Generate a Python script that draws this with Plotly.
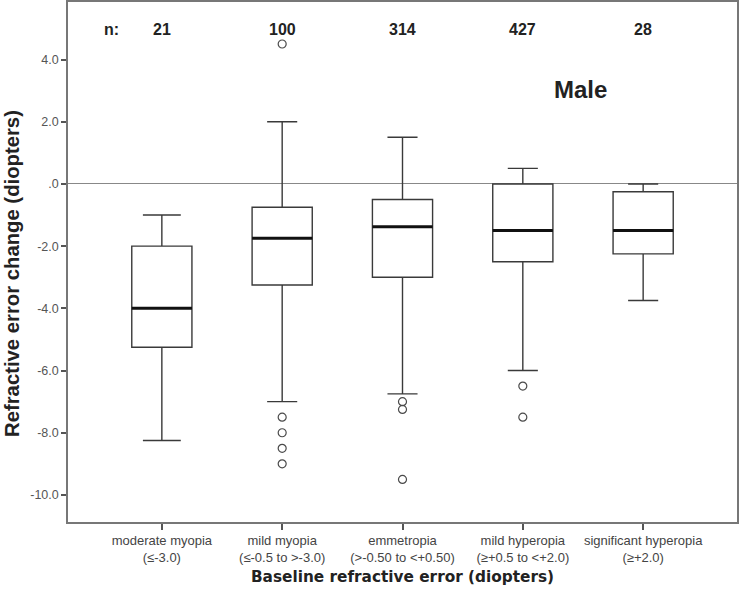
import plotly.graph_objects as go

# ---- data ----
categories = [
    "moderate myopia<br>(≤-3.0)",
    "mild myopia<br>(≤-0.5 to >-3.0)",
    "emmetropia<br>(>-0.50 to <+0.50)",
    "mild hyperopia<br>(≥+0.5 to <+2.0)",
    "significant hyperopia<br>(≥+2.0)",
]
n_counts = [21, 100, 314, 427, 28]
q1_vals = [-5.25, -3.25, -3.0, -2.5, -2.25]
median_vals = [-4.0, -1.75, -1.375, -1.5, -1.5]
q3_vals = [-2.0, -0.75, -0.5, 0.0, -0.25]
lower_whisker = [-8.25, -7.0, -6.75, -6.0, -3.75]
upper_whisker = [-1.0, 2.0, 1.5, 0.5, 0.0]
outliers = [
    [],
    [4.5, -7.5, -8.0, -8.5, -9.0],
    [-7.0, -7.25, -9.5],
    [-6.5, -7.5],
    [],
]
y_tick_vals = [4, 2, 0, -2, -4, -6, -8, -10]
y_tick_text = ["4.0", "2.0", ".0", "-2.0", "-4.0", "-6.0", "-8.0", "-10.0"]

BOX_W = 0.5
cap_frac = [0.63, 0.5, 0.5, 0.5, 0.5]
positions = list(range(len(categories)))

fig = go.Figure()

for i in positions:
    fig.add_trace(go.Box(
        x=[i], q1=[q1_vals[i]], median=[median_vals[i]], q3=[q3_vals[i]],
        lowerfence=[lower_whisker[i]], upperfence=[upper_whisker[i]],
        width=BOX_W, whiskerwidth=cap_frac[i],
        fillcolor="white", line=dict(color="#3a3a3a", width=1.4),
        boxpoints=False, showlegend=False, hoverinfo="skip",
    ))

# thick median lines
mx, my = [], []
for i in positions:
    mx += [i - BOX_W / 2, i + BOX_W / 2, None]
    my += [median_vals[i], median_vals[i], None]
fig.add_trace(go.Scatter(x=mx, y=my, mode="lines",
                         line=dict(color="#111111", width=3),
                         showlegend=False, hoverinfo="skip"))

# outliers
ox, oy = [], []
for i in positions:
    for v in outliers[i]:
        ox.append(i)
        oy.append(v)
fig.add_trace(go.Scatter(x=ox, y=oy, mode="markers",
                         marker=dict(symbol="circle-open", size=8, color="#4a4a4a",
                                     line=dict(width=1.2)),
                         showlegend=False, hoverinfo="skip"))

FONT = "Liberation Sans, Arial"
annotations = [dict(x=-0.42, y=4.95, xref="x", yref="y", text="<b>n:</b>", showarrow=False,
                    font=dict(family=FONT, size=16, color="#222222"))]
for i in positions:
    annotations.append(dict(x=i, y=4.95, xref="x", yref="y", text="<b>%d</b>" % n_counts[i],
                            showarrow=False, font=dict(family=FONT, size=16, color="#222222")))
annotations.append(dict(x=3.48, y=3.05, xref="x", yref="y", text="<b>Male</b>", showarrow=False,
                        font=dict(family=FONT, size=24, color="#222222")))
# y-axis title
annotations.append(dict(x=0, y=0.477, xref="paper", yref="paper", xshift=-56,
                        xanchor="center", yanchor="middle", textangle=-90,
                        text="<b>Refractive error change (diopters)</b>", showarrow=False,
                        font=dict(family=FONT, size=20.3, color="#222222")))

fig.update_layout(
    width=740, height=592,
    margin=dict(l=68, r=3, t=2, b=70),
    plot_bgcolor="white", paper_bgcolor="white",
    annotations=annotations,
    font=dict(family=FONT, color="#444444"),
)
fig.update_xaxes(
    automargin=False,
    range=[-0.78, 4.78], tickvals=positions, ticktext=categories,
    ticks="outside", ticklen=6, tickwidth=1.5, tickcolor="#555555",
    showline=True, linecolor="#777777", linewidth=1.5, mirror=True,
    showgrid=False, zeroline=False,
    tickfont=dict(family=FONT, size=13, color="#444444"),
    title=dict(text="<b>Baseline refractive error (diopters)</b>",
               font=dict(family="DejaVu Sans", size=15.3, color="#222222"), standoff=7),
)
fig.update_yaxes(
    automargin=False,
    range=[-10.87, 5.85], tickvals=y_tick_vals, ticktext=y_tick_text,
    ticks="outside", ticklen=5, tickwidth=1.5, tickcolor="#555555",
    showline=True, linecolor="#777777", linewidth=1.5, mirror=True,
    showgrid=False, zeroline=True, zerolinecolor="#888888", zerolinewidth=1,
    tickfont=dict(family=FONT, size=12.5, color="#555555"),
)

fig.write_html("out.html", config={"displayModeBar": False},
               post_script="document.body.style.margin='0';")
